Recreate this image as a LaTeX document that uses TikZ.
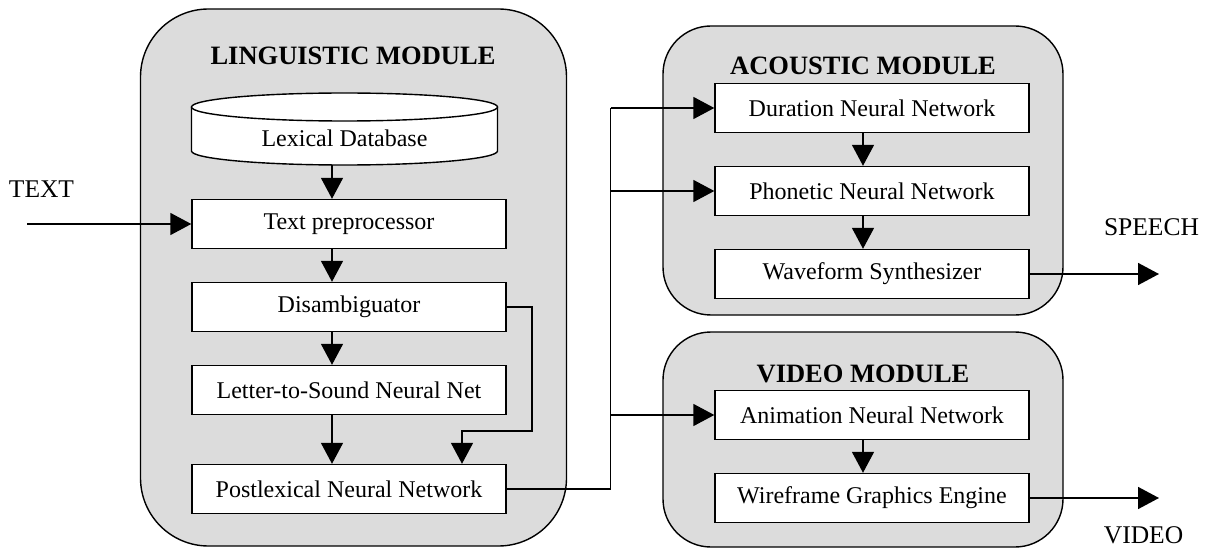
\documentclass[tikz,border=0pt]{standalone}
\usepackage{fontspec}
\setmainfont{Liberation Serif}
\usetikzlibrary{arrows.meta}
\definecolor{modgray}{RGB}{220,220,220}
\newcommand\bxfnt{\fontsize{24}{28}\selectfont}
\newcommand\lbfnt{\fontsize{25.5}{30}\selectfont}
\newcommand\ttfnt{\fontsize{26.5}{31}\selectfont\bfseries}
\tikzset{
  modbox/.style={draw, line width=1.4pt, fill=modgray, inner sep=0pt},
  procbox/.style={draw, fill=white, line width=1.4pt, inner sep=0pt, minimum height=49pt, minimum width=314pt, font=\bxfnt},
  arr/.style={line width=1.6pt, -{Triangle[length=21pt,width=22pt]}},
  wire/.style={line width=1.6pt},
  modtitle/.style={font=\ttfnt, inner sep=0pt},
  lbl/.style={font=\lbfnt, inner sep=0pt},
}
\begin{document}
\begin{tikzpicture}[x=1pt,y=-1pt]
\useasboundingbox (0,0) rectangle (1210,548);
% module boxes
\node[modbox, rounded corners=68pt, minimum width=426pt, minimum height=537pt] (ling) at (353.5,277.5) {};
\node[modbox, rounded corners=48pt, minimum width=400pt, minimum height=289pt] (acou) at (863,170.5) {};
\node[modbox, rounded corners=48pt, minimum width=400pt, minimum height=215pt] (vid) at (863,439.5) {};
% titles
\node[modtitle] (lingT) at (353,56) {LINGUISTIC MODULE};
\node[modtitle] (acouT) at (863,66) {ACOUSTIC MODULE};
\node[modtitle] (vidT) at (863,374) {VIDEO MODULE};
% lexical database cylinder
\filldraw[fill=white, line width=1.4pt] (191.5,107) -- (191.5,151) arc[start angle=180, end angle=0, x radius=153, y radius=14] -- (497.5,107);
\filldraw[fill=white, line width=1.4pt] (344.5,107) ellipse [x radius=153, y radius=14];
\node[minimum width=306pt, minimum height=72pt, inner sep=0pt] (lexdb) at (344.5,129) {};
\node[font=\bxfnt, inner sep=0pt] (lexdbT) at (344.5,138) {Lexical Database};
% linguistic processes
\node[procbox] (prep) at (349,224) {Text preprocessor};
\node[procbox] (disamb) at (349,307) {Disambiguator};
\node[procbox] (l2s) at (349,390) {Letter-to-Sound Neural Net};
\node[procbox] (postlex) at (349,489) {Postlexical Neural Network};
% acoustic processes
\node[procbox] (dur) at (872,108) {Duration Neural Network};
\node[procbox] (phon) at (872,191) {Phonetic Neural Network};
\node[procbox] (wave) at (872,274) {Waveform Synthesizer};
% video processes
\node[procbox] (anim) at (872,415) {Animation Neural Network};
\node[procbox] (wire) at (872,498) {Wireframe Graphics Engine};
% labels
\node[lbl] (textL) at (41.5,189) {TEXT};
\node[lbl] (speechL) at (1151.5,227) {SPEECH};
\node[lbl] (videoL) at (1143.5,535) {VIDEO};
% coordinates
\coordinate (tin) at (27,224);
\coordinate (dsR) at (532,307);
\coordinate (dsD) at (532,431);
\coordinate (dsL) at (462,431);
\coordinate (busB) at (610.5,489);
\coordinate (busT) at (610.5,108);
\coordinate (busP) at (610.5,191);
\coordinate (busA) at (610.5,415);
\coordinate (spOut) at (1159,274);
\coordinate (vdOut) at (1159,498);
% connectors
\draw[arr] (tin) -- (prep.west);
\draw[arr] ([xshift=-12.5pt]lexdb.south) -- ([xshift=-17pt]prep.north);
\draw[arr] ([xshift=-17pt]prep.south) -- ([xshift=-17pt]disamb.north);
\draw[arr] ([xshift=-17pt]disamb.south) -- ([xshift=-17pt]l2s.north);
\draw[arr] ([xshift=-17pt]l2s.south) -- ([xshift=-17pt]postlex.north);
\draw[arr] (disamb.east) -- (dsR) -- (dsD) -- (dsL) -- (dsL |- postlex.north);
\draw[wire] (postlex.east) -- (busB) -- (busT);
\draw[arr] (busT) -- (dur.west);
\draw[arr] (busP) -- (phon.west);
\draw[arr] (busA) -- (anim.west);
\draw[arr] ([xshift=-9pt]dur.south) -- ([xshift=-9pt]phon.north);
\draw[arr] ([xshift=-9pt]phon.south) -- ([xshift=-9pt]wave.north);
\draw[arr] ([xshift=-9pt]anim.south) -- ([xshift=-9pt]wire.north);
\draw[arr] (wave.east) -- (spOut);
\draw[arr] (wire.east) -- (vdOut);
\end{tikzpicture}
\end{document}
